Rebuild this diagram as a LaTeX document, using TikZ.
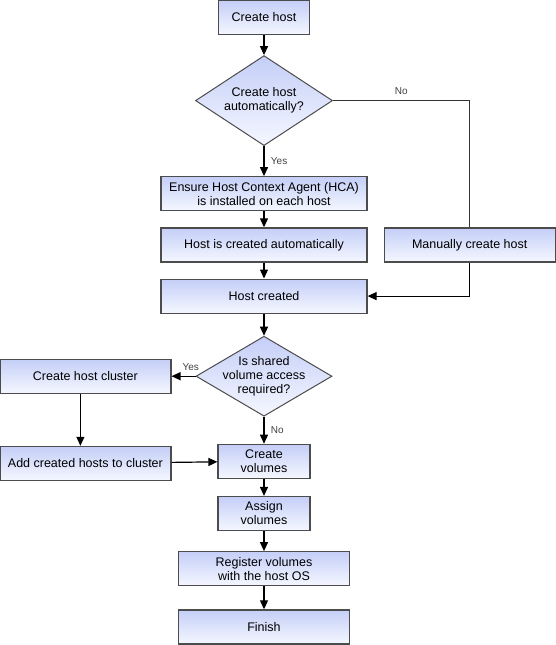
\documentclass[tikz,border=0pt]{standalone}
\usepackage{fontspec}
\setmainfont{Liberation Sans}
\usepackage{xcolor}
\usepackage{tikz}
\usetikzlibrary{positioning, shapes.geometric, arrows.meta}
\definecolor{BoxTopColor}{rgb}{0.77,0.81,0.97}
\definecolor{BoxBottomColor}{rgb}{0.96,0.97,1.0}
\definecolor{BorderColor}{rgb}{0.30,0.30,0.30}
\tikzset{
    procbox/.style={
        shape=rectangle,
        draw=BorderColor,
        line width=1.2pt,
        top color=BoxTopColor,
        bottom color=BoxBottomColor,
        minimum width=#1,
        minimum height=34pt,
        inner sep=1pt,
        align=center,
        font=\fontsize{12.5}{14}\selectfont
    },
    decision/.style={
        shape=diamond,
        draw=BorderColor,
        line width=1pt,
        top color=BoxTopColor,
        bottom color=BoxBottomColor,
        aspect=1.6,
        inner sep=0pt,
        minimum width=137pt,
        minimum height=#1,
        align=center,
        font=\fontsize{12.5}{14}\selectfont
    },
    flowarrow/.style={
        draw=black,
        line width=1.2pt,
        -{Triangle[length=9pt, width=8pt]}
    },
    flowline/.style={
        draw=black!80,
        line width=1.2pt
    },
    answer/.style={
        font=\fontsize{10}{12}\selectfont,
        text=black!75
    }
}
\begin{document}
\begin{tikzpicture}[x=1pt, y=1pt]

\useasboundingbox (0,0) rectangle (556,-645);

\coordinate (start) at (264, -17.5);

% Create host
\node[procbox=91pt] (n_create) at (start) {Create host};

% Decision: automatic
\node[decision=90pt, below=20pt of n_create] (d_auto) {Create host\\automatically?};

% HCA
\node[procbox=206pt, below=30pt of d_auto] (n_hca) {Ensure Host Context Agent (HCA)\\is installed on each host};

% Auto
\node[procbox=206pt, below=16pt of n_hca] (n_auto) {Host is created automatically};

% Manual
\node[procbox=171pt, right=16pt of n_auto] (n_manual) {Manually create host};

% Host created
\node[procbox=206pt, below=16pt of n_auto] (n_created) {Host created};

% Decision: shared volumes
\node[decision=80pt, aspect=1.7, inner sep=-4pt, minimum width=136pt, below=22pt of n_created] (d_shared) {Is shared\\volume access\\required?};

% Cluster
\node[procbox=171pt, left=24pt of d_shared] (n_cluster) {Create host cluster};
\node[procbox=171pt, below=52pt of n_cluster] (n_addhosts) {Add created hosts to cluster};

% Volumes
\node[procbox=92pt, below=27pt of d_shared] (n_volumes) {Create\\volumes};
\node[procbox=92pt, below=17pt of n_volumes] (n_assign) {Assign\\volumes};
\node[procbox=171pt, below=20pt of n_assign] (n_register) {Register volumes\\with the host OS};
\node[procbox=171pt, below=23pt of n_register] (n_finish) {Finish};

% Connectors
\draw[flowarrow] (n_create) -- (d_auto);
\draw[flowarrow] (d_auto) -- node[answer, right=3pt] {Yes} (n_hca);
\draw[flowline] (d_auto.east) -| node[answer, pos=0.25, above=2pt] {No} (n_manual.north);
\draw[flowarrow] (n_hca) -- (n_auto);
\draw[flowarrow] (n_auto) -- (n_created);
\draw[flowarrow] (n_manual.south) |- (n_created.east);
\draw[flowarrow] (n_created) -- (d_shared);
\draw[flowarrow] (d_shared.west) -- node[answer, pos=0.2, above=2pt] {Yes} (n_cluster.east);
\draw[flowarrow] (d_shared) -- node[answer, right=3pt] {No} (n_volumes);
\draw[flowarrow] ([xshift=-5pt]n_cluster.south) -- ([xshift=-5pt]n_addhosts.north);
\draw[flowarrow] (n_addhosts) -- (n_volumes);
\draw[flowarrow] (n_volumes) -- (n_assign);
\draw[flowarrow] (n_assign) -- (n_register);
\draw[flowarrow] (n_register) -- (n_finish);

\end{tikzpicture}
\end{document}
